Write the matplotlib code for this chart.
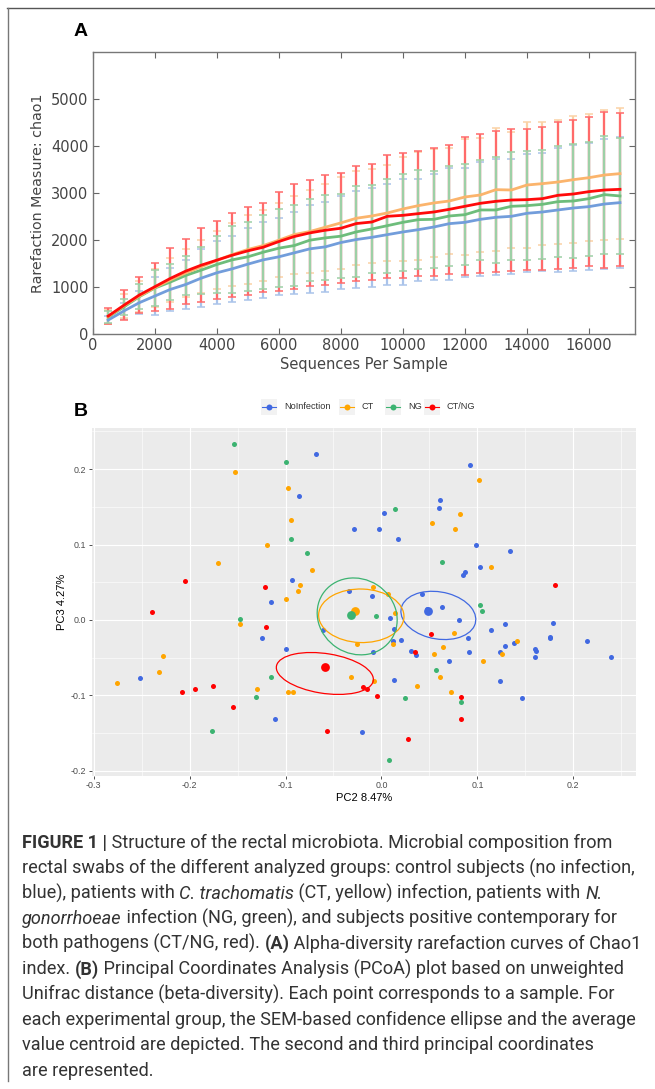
import numpy as np
import matplotlib
matplotlib.use("Agg")
import matplotlib.pyplot as plt
from matplotlib.patches import Ellipse, Rectangle

plt.rcParams["axes.unicode_minus"] = False

# ---------------- panel A: rarefaction (chao1) ----------------
depth = [500, 1000, 1500, 2000, 2500, 3000, 3500, 4000, 4500, 5000, 5500, 6000,
         6500, 7000, 7500, 8000, 8500, 9000, 9500, 10000, 10500, 11000, 11500,
         12000, 12500, 13000, 13500, 14000, 14500, 15000, 15500, 16000, 16500, 17000]

chao_noinf = [297, 488, 665, 807, 948, 1054, 1189, 1302, 1387, 1486, 1578, 1642,
              1727, 1812, 1854, 1946, 2010, 2057, 2114, 2171, 2220, 2277, 2348,
              2376, 2440, 2483, 2504, 2568, 2596, 2639, 2681, 2710, 2766, 2795]
sd_noinf = [92, 162, 250, 404, 460, 530, 609, 672, 701, 764, 807, 821,
            878, 934, 955, 998, 1026, 1056, 1078, 1121, 1084, 1127, 1191,
            1162, 1212, 1234, 1227, 1255, 1262, 1319, 1347, 1355, 1382, 1390]

chao_ct = [370, 598, 805, 985, 1150, 1300, 1430, 1565, 1690, 1798, 1882, 1996,
           2116, 2180, 2272, 2364, 2463, 2511, 2575, 2660, 2731, 2788, 2830,
           2915, 2958, 3071, 3064, 3170, 3199, 3234, 3284, 3326, 3383, 3412]
sd_ct = [150, 250, 330, 400, 460, 510, 565, 617, 675, 734, 760, 790,
         830, 875, 930, 981, 1000, 1000, 1021, 1099, 1149, 1156, 1127,
         1233, 1213, 1311, 1226, 1332, 1312, 1311, 1347, 1354, 1375, 1390]

chao_ng = [361, 573, 793, 977, 1104, 1246, 1359, 1479, 1578, 1642, 1741, 1826,
           1882, 1996, 2045, 2081, 2173, 2235, 2305, 2376, 2433, 2440, 2511,
           2539, 2639, 2639, 2717, 2731, 2759, 2816, 2830, 2880, 2965, 2937]
sd_ng = [127, 177, 261, 380, 389, 420, 502, 616, 715, 736, 793, 835,
         871, 877, 906, 898, 969, 943, 1000, 1035, 1060, 1035, 1060,
         1078, 1063, 1131, 1149, 1159, 1166, 1188, 1209, 1212, 1255, 1237]

chao_ctng = [382, 609, 828, 1005, 1182, 1338, 1465, 1571, 1677, 1769, 1847, 1967,
             2074, 2151, 2208, 2250, 2350, 2383, 2504, 2525, 2561, 2596, 2653,
             2717, 2781, 2823, 2851, 2858, 2880, 2951, 2979, 3029, 3064, 3078]
sd_ctng = [167, 319, 390, 510, 649, 692, 784, 827, 894, 933, 943, 1046,
           1110, 1128, 1174, 1167, 1227, 1224, 1302, 1323, 1330, 1362, 1369,
           1468, 1482, 1500, 1518, 1504, 1525, 1561, 1575, 1585, 1667, 1628]

# ---------------- panel B: PCoA (PC2, PC3) ----------------
groups = ["NoInfection", "CT", "NG", "CT/NG"]

noinf_pc2 = [-0.068, 0.092, -0.086, 0.061, 0.060, 0.003, -0.003, -0.029, 0.017, 0.099,
             0.134, 0.103, 0.087, 0.085, -0.093, -0.034, -0.010, 0.042, -0.115, 0.063,
             0.047, 0.009, 0.081, 0.129, 0.179, -0.061, 0.013, 0.114, 0.090, 0.176,
             0.176, -0.124, 0.020, 0.214, 0.138, 0.012, 0.129, -0.100, 0.160, 0.161,
             0.031, 0.036, -0.009, 0.091, 0.124, 0.160, 0.239, 0.070, 0.013, 0.124,
             -0.252, 0.147, -0.111, -0.020]
noinf_pc3 = [0.220, 0.206, 0.164, 0.159, 0.148, 0.142, 0.121, 0.120, 0.108, 0.100,
             0.091, 0.070, 0.064, 0.060, 0.053, 0.039, 0.032, 0.035, 0.024, 0.017,
             0.015, 0.002, 0.000, -0.005, -0.004, -0.013, -0.012, -0.014, -0.024, -0.022,
             -0.024, -0.024, -0.026, -0.028, -0.031, -0.028, -0.035, -0.039, -0.038, -0.041,
             -0.041, -0.047, -0.043, -0.043, -0.043, -0.049, -0.049, -0.055, -0.079, -0.081,
             -0.077, -0.104, -0.131, -0.148]

ct_pc2 = [-0.153, 0.102, -0.097, 0.082, -0.094, 0.053, 0.077, -0.119, -0.170, 0.114,
          -0.072, -0.085, -0.009, -0.087, 0.007, -0.100, 0.014, -0.147, 0.076, 0.141,
          -0.025, 0.012, 0.064, 0.055, 0.126, -0.228, 0.106, -0.232, -0.032, 0.061,
          -0.276, -0.008, 0.037, -0.130, -0.097, -0.092, 0.073]
ct_pc3 = [0.196, 0.185, 0.175, 0.140, 0.132, 0.128, 0.121, 0.100, 0.076, 0.070,
          0.066, 0.046, 0.044, 0.039, 0.035, 0.028, 0.009, -0.005, -0.017, -0.028,
          -0.032, -0.032, -0.036, -0.045, -0.045, -0.048, -0.054, -0.069, -0.076, -0.076,
          -0.083, -0.081, -0.087, -0.091, -0.095, -0.095, -0.096]

ng_pc2 = [-0.154, -0.099, 0.014, -0.094, -0.078, 0.063, 0.103, 0.105, -0.006, -0.147,
          0.057, -0.115, -0.131, 0.025, 0.083, -0.177, 0.008]
ng_pc3 = [0.234, 0.210, 0.147, 0.108, 0.089, 0.077, 0.020, 0.012, 0.005, 0.001,
          -0.067, -0.076, -0.102, -0.104, -0.109, -0.147, -0.186]

ctng_pc2 = [-0.205, 0.181, -0.121, -0.239, -0.120, 0.052, 0.035, -0.176, -0.019, -0.015,
            -0.194, -0.208, -0.005, 0.083, -0.155, 0.083, -0.057, 0.028]
ctng_pc3 = [0.051, 0.047, 0.044, 0.010, -0.009, -0.019, -0.042, -0.088, -0.089, -0.091,
            -0.091, -0.095, -0.101, -0.102, -0.116, -0.131, -0.147, -0.158]

# group centroids and SEM ellipses (centre x, centre y, width, height, angle)
centroid_pc2 = [0.048, -0.0275, -0.032, -0.0587]
centroid_pc3 = [0.0115, 0.0115, 0.0067, -0.0625]
ell_cx = [0.0593, -0.021, -0.0253, -0.059]
ell_cy = [0.006, 0.0055, 0.0047, -0.071]
ell_w = [0.080, 0.089, 0.0824, 0.1028]
ell_h = [0.0616, 0.071, 0.1028, 0.0525]
ell_ang = [-20, -3, 12, -12]

caption = [
    [("FIGURE 1 |", "b"), (" Structure of the rectal microbiota. Microbial composition from", "n")],
    [("rectal swabs of the different analyzed groups: control subjects (no infection,", "n")],
    [("blue), patients with ", "n"), ("C. trachomatis", "i"),
     (" (CT, yellow) infection, patients with ", "n"), ("N.", "i")],
    [("gonorrhoeae", "i"), (" infection (NG, green), and subjects positive contemporary for", "n")],
    [("both pathogens (CT/NG, red). ", "n"), ("(A)", "b"),
     (" Alpha-diversity rarefaction curves of Chao1", "n")],
    [("index. ", "n"), ("(B)", "b"),
     (" Principal Coordinates Analysis (PCoA) plot based on unweighted", "n")],
    [("Unifrac distance (beta-diversity). Each point corresponds to a sample. For", "n")],
    [("each experimental group, the SEM-based confidence ellipse and the average", "n")],
    [("value centroid are depicted. The second and third principal coordinates", "n")],
    [("are represented.", "n")],
]

W, H = 655, 1089
fig = plt.figure(figsize=(W / 100, H / 100), dpi=100)

# ---------------- draw panel A ----------------
axA = fig.add_axes([92.7 / W, 1 - 334 / H, (635.5 - 92.7) / W, (334 - 52) / H])
bar_col = {"noinf": "#aac3ea", "ct": "#fbd2a6", "ctng": "#ff6a6a", "ng": "#9dd0a6"}
line_col = {"noinf": "#729ddb", "ct": "#fbb46c", "ng": "#6dbd7b", "ctng": "#ff0a0a"}
series = {"noinf": (chao_noinf, sd_noinf), "ct": (chao_ct, sd_ct),
          "ng": (chao_ng, sd_ng), "ctng": (chao_ctng, sd_ctng)}
for key in ["noinf", "ct", "ctng", "ng"]:
    m, s = series[key]
    axA.errorbar(depth, m, yerr=s, fmt="none", ecolor=bar_col[key],
                 elinewidth=1.6, capsize=3.2, capthick=1.1, zorder=2)
for key in ["noinf", "ng", "ct", "ctng"]:
    m, s = series[key]
    axA.plot(depth, m, color=line_col[key], lw=2.0, zorder=3)

axA.set_xlim(0, 17500)
axA.set_ylim(0, 6000)
axA.set_xticks(range(0, 16001, 2000))
axA.set_yticks(range(0, 5001, 1000))
axA.tick_params(direction="in", length=4, width=0.8, color="#666", labelcolor="#444",
                labelsize=10.5, top=True, right=True, pad=3)
for sp in axA.spines.values():
    sp.set_color("#777")
    sp.set_linewidth(1.0)
axA.set_xlabel("Sequences Per Sample", fontsize=10.5, color="#444", labelpad=3)
axA.set_ylabel("Rarefaction Measure: chao1", fontsize=10.3, color="#444", labelpad=4)

# ---------------- draw panel B ----------------
gg = "Liberation Sans"
axB = fig.add_axes([91.7 / W, 1 - 776 / H, (635.7 - 91.7) / W, (776 - 427.7) / H])
axB.set_facecolor("#ebebeb")
pts_col = ["#4169e1", "#ffa500", "#3cb371", "#ff0000"]
pts = [(noinf_pc2, noinf_pc3), (ct_pc2, ct_pc3), (ng_pc2, ng_pc3), (ctng_pc2, ctng_pc3)]
for (px, py), c in zip(pts, pts_col):
    axB.scatter(px, py, s=13, color=c, linewidths=0, zorder=3)
for i, c in enumerate(pts_col):
    axB.add_patch(Ellipse((ell_cx[i], ell_cy[i]), ell_w[i], ell_h[i], angle=ell_ang[i],
                          fill=False, edgecolor=c, lw=0.9, zorder=4))
    axB.scatter([centroid_pc2[i]], [centroid_pc3[i]], s=40, color=c, linewidths=0, zorder=5)

axB.set_xlim(-0.302, 0.265)
axB.set_ylim(-0.207, 0.255)
axB.set_xticks([-0.3, -0.2, -0.1, 0.0, 0.1, 0.2])
axB.set_yticks([-0.2, -0.1, 0.0, 0.1, 0.2])
axB.set_xticks([-0.25, -0.15, -0.05, 0.05, 0.15, 0.25], minor=True)
axB.set_yticks([-0.15, -0.05, 0.05, 0.15, 0.25], minor=True)
axB.set_xticklabels(["%.1f" % v for v in axB.get_xticks()])
axB.set_yticklabels(["%.1f" % v for v in axB.get_yticks()])
axB.grid(which="major", color="white", lw=0.85)
axB.grid(which="minor", color="white", lw=0.4)
axB.set_axisbelow(True)
for sp in axB.spines.values():
    sp.set_visible(False)
axB.tick_params(which="major", length=2.2, width=0.6, color="#333", labelcolor="#4d4d4d",
                labelsize=6.4, pad=1.5)
axB.tick_params(which="minor", length=0)
for lab in axB.get_xticklabels() + axB.get_yticklabels():
    lab.set_family(gg)
axB.set_xlabel("PC2 8.47%", fontsize=8, family=gg, labelpad=2)
axB.set_ylabel("PC3 4.27%", fontsize=8, family=gg, labelpad=3)

# ---------------- overlay in pixel units ----------------
ov = fig.add_axes([0, 0, 1, 1], facecolor="none")
ov.set_xlim(0, W)
ov.set_ylim(H, 0)
ov.axis("off")

ov.plot([7, W], [8, 8], color="#555", lw=1.0)
ov.plot([7.5, 7.5], [8, 1081], color="#777", lw=1.0)
ov.text(74, 32, "A", fontsize=14, fontweight="bold", family=gg, va="center")
ov.text(74, 412, "B", fontsize=14, fontweight="bold", family=gg, va="center")

# legend of panel B
leg_x = [269, 346.7, 393.3, 431.7]
for name, c, lx in zip(groups, pts_col, leg_x):
    ov.add_patch(Rectangle((lx - 8, 398.5), 16, 16, color="#f2f2f2", lw=0))
    ov.plot([lx - 7, lx + 7], [406.5, 406.5], color=c, lw=0.8)
    ov.plot([lx], [406.5], "o", color=c, ms=4.3, mew=0)
    ov.text(lx + 15, 406.5, name, fontsize=6.6, family=gg, color="#333", va="center")

# caption with mixed styles
renderer = fig.canvas.get_renderer()
cap_font = "Roboto"
styles = {"n": dict(fontweight="normal"), "b": dict(fontweight="bold"),
          "i": dict(fontweight="normal", fontstyle="italic")}


def seg_width(txt, size, st):
    t = ov.text(0, 0, txt.replace(" ", "\u00a0") + "|", fontsize=size, family=cap_font, **styles[st])
    w1 = t.get_window_extent(renderer).width
    t.set_text("|")
    w2 = t.get_window_extent(renderer).width
    t.remove()
    return w1 - w2


probe = 10.0
w0 = sum(seg_width(s, probe, st) for s, st in caption[7])
cap_size = probe * (636 - 22) / w0
y0 = 848
for k, line in enumerate(caption):
    x = 22
    y = y0 + k * 25.3
    for s, st in line:
        ov.text(x, y, s, fontsize=cap_size, family=cap_font, color="#333333",
                va="baseline", ha="left", **styles[st])
        x += seg_width(s, cap_size, st)

fig.savefig("out.png", dpi=100)
